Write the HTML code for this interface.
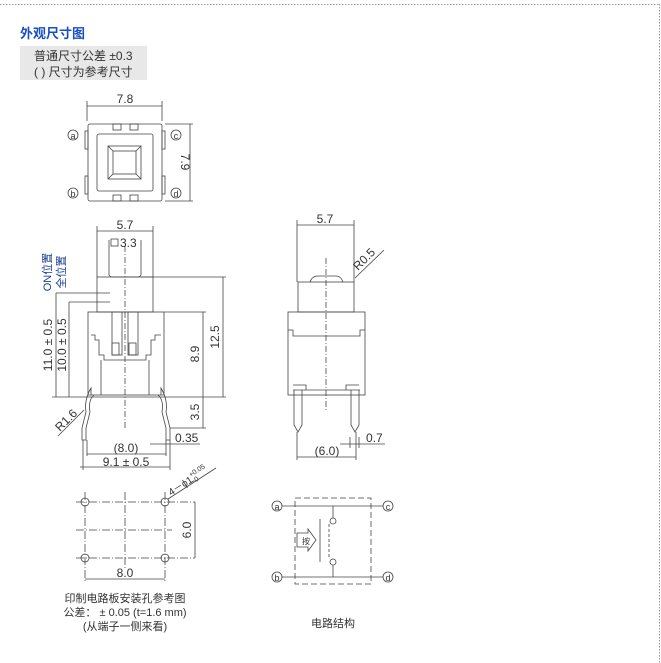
<!DOCTYPE html>
<html><head><meta charset="utf-8"><style>
body{margin:0;background:#fff;width:661px;height:663px;overflow:hidden;position:relative;font-family:"Liberation Sans","Noto Sans CJK SC",sans-serif}
svg{position:absolute;left:0;top:0}
</style></head><body>
<svg width="661" height="663" viewBox="0 0 661 663" font-family="Liberation Sans, Noto Sans CJK SC, sans-serif">
<line x1="0" y1="4.5" x2="659" y2="4.5" stroke="#999" stroke-dasharray="1.5,1.5"/>
<line x1="659.5" y1="4" x2="659.5" y2="663" stroke="#999" stroke-dasharray="1.5,1.5"/>
<text x="20" y="38" font-size="13" font-weight="bold" fill="#1a4fc2">外观尺寸图</text>
<rect x="20" y="46" width="127" height="34" fill="#e8e8e8"/>
<text x="34" y="60" font-size="12" fill="#333">普通尺寸公差 ±0.3</text>
<text x="34" y="76" font-size="12" fill="#333">( ) 尺寸为参考尺寸</text>

<g stroke="#444" fill="none" stroke-width="0.8">
<rect x="88" y="124" width="74" height="77" rx="2"/>
<rect x="97" y="134" width="56" height="57" rx="2"/>
<rect x="108" y="146" width="33" height="33"/>
<rect x="113" y="151" width="23" height="23"/>
<line x1="108" y1="146" x2="113" y2="151"/><line x1="141" y1="146" x2="136" y2="151"/><line x1="108" y1="179" x2="113" y2="174"/><line x1="141" y1="179" x2="136" y2="174"/>
<rect x="113" y="124" width="8" height="6"/><rect x="130" y="124" width="8" height="6"/>
<rect x="113" y="195" width="8" height="6"/><rect x="130" y="195" width="8" height="6"/>
<rect x="85" y="131" width="3" height="18"/><rect x="85" y="176" width="3" height="18"/>
<rect x="162" y="131" width="3" height="18"/><rect x="162" y="176" width="3" height="18"/>
<line x1="87" y1="101" x2="87" y2="121"/><line x1="162" y1="101" x2="162" y2="121"/>
<line x1="87" y1="106" x2="162" y2="106"/>
<line x1="165" y1="124" x2="193" y2="124"/><line x1="165" y1="201" x2="193" y2="201"/>
<line x1="190" y1="124" x2="190" y2="201"/>
<circle cx="73" cy="135" r="5"/><circle cx="73" cy="193" r="5"/><circle cx="176" cy="135" r="5"/><circle cx="176" cy="193" r="5"/>

<line x1="97" y1="226" x2="97" y2="277"/><line x1="153" y1="226" x2="153" y2="277"/>
<line x1="97" y1="231" x2="153" y2="231"/>
<path d="M109 240 V275 Q110 277 113 277 H137 Q140 277 141 275 V240"/>
<rect x="97" y="277" width="56" height="35"/>
<rect x="88" y="312" width="76" height="83"/>
<path d="M91 335 H95 V340 H99 V355 H104 V360 H146 V355 H151 V340 H155 V335 H161"/>
<rect x="112" y="312" width="10" height="43"/><rect x="128" y="312" width="10" height="43"/>
<rect x="112" y="343" width="7" height="12"/><rect x="129" y="343" width="7" height="12"/>
<line x1="101" y1="360" x2="101" y2="395"/><line x1="149" y1="360" x2="149" y2="395"/>
<path d="M91 395 V388 Q84 400 86 412 L82 428 V440 H86 V428 L90 412 Q88 400 94 395"/>
<path d="M161 395 V388 Q168 400 166 412 L170 428 V440 H166 V428 L162 412 Q164 400 158 395"/>
<line x1="125" y1="246" x2="125" y2="430" stroke-dasharray="6,2,1,2"/>
<line x1="141" y1="277" x2="226" y2="277"/><line x1="164" y1="312" x2="206" y2="312"/>
<line x1="52" y1="397" x2="226" y2="397"/>
<line x1="223" y1="277" x2="223" y2="397"/>
<line x1="203" y1="312" x2="203" y2="428"/><line x1="170" y1="428" x2="206" y2="428"/>
<line x1="56" y1="293" x2="56" y2="397"/><line x1="69" y1="302" x2="69" y2="397"/>
<line x1="56" y1="293" x2="110" y2="293"/><line x1="69" y1="302" x2="110" y2="302"/>
<line x1="83" y1="440" x2="83" y2="470"/><line x1="170" y1="440" x2="170" y2="470"/>
<line x1="87" y1="440" x2="87" y2="456"/><line x1="166" y1="440" x2="166" y2="456"/>
<line x1="87" y1="454" x2="166" y2="454"/><line x1="80" y1="467" x2="170" y2="467"/>
<line x1="150" y1="444" x2="200" y2="444"/>
<line x1="58" y1="436" x2="84" y2="410"/>

<line x1="297" y1="220" x2="297" y2="282"/><line x1="354" y1="220" x2="354" y2="282"/>
<line x1="297" y1="225" x2="354" y2="225"/>
<path d="M310 282 Q312 276 318 276 H336 Q341 276 343 282"/>
<rect x="298" y="282" width="56" height="30"/>
<rect x="288" y="312" width="77" height="83"/>
<path d="M288 330 H293 V336 H360 V330 H365"/>
<line x1="293" y1="390" x2="360" y2="390"/>
<path d="M293 385 H306 V390 M346 390 V385 H359"/>
<path d="M294 390 V425 L298 432 L302 425 V390"/>
<path d="M351 390 V425 L355 432 L359 425 V390"/>
<line x1="326" y1="258" x2="326" y2="412" stroke-dasharray="6,2,1,2"/>
<line x1="355" y1="278" x2="384" y2="250"/>
<line x1="297" y1="432" x2="297" y2="460"/><line x1="356" y1="432" x2="356" y2="460"/>
<line x1="297" y1="457" x2="356" y2="457"/>
<line x1="350" y1="437" x2="350" y2="448"/><line x1="359" y1="437" x2="359" y2="448"/>
<line x1="340" y1="444" x2="385" y2="444"/>

<line x1="76" y1="502" x2="195" y2="502" stroke-dasharray="8,2,1,2"/>
<line x1="76" y1="558" x2="195" y2="558" stroke-dasharray="8,2,1,2"/>
<line x1="76" y1="530" x2="172" y2="530" stroke-dasharray="8,2,1,2"/>
<line x1="85" y1="492" x2="85" y2="582" stroke-dasharray="8,2,1,2"/>
<line x1="165" y1="492" x2="165" y2="582" stroke-dasharray="8,2,1,2"/>
<line x1="125" y1="492" x2="125" y2="568" stroke-dasharray="8,2,1,2"/>
<circle cx="85" cy="502" r="4"/><circle cx="165" cy="502" r="4"/><circle cx="85" cy="558" r="4"/><circle cx="165" cy="558" r="4"/>
<line x1="195" y1="502" x2="195" y2="558"/>
<line x1="85" y1="579" x2="165" y2="579"/>
<line x1="168" y1="499" x2="216" y2="468"/>

<rect x="295" y="498" width="76" height="86" stroke-dasharray="6,3"/>
<line x1="282" y1="506" x2="383" y2="506"/><line x1="282" y1="577" x2="383" y2="577"/>
<line x1="333" y1="506" x2="333" y2="518"/><circle cx="333" cy="521" r="3"/>
<circle cx="333" cy="562" r="3"/><line x1="333" y1="565" x2="333" y2="577"/>
<line x1="320" y1="519" x2="320" y2="562"/>
<line x1="329" y1="524" x2="329" y2="559" stroke-dasharray="3,2"/>
<path d="M297 533 H308 V529 L316 540 L308 551 V547 H297 Z"/>
<circle cx="277" cy="506" r="5"/><circle cx="277" cy="577" r="5"/><circle cx="388" cy="506" r="5"/><circle cx="388" cy="577" r="5"/>
</g>

<g fill="#333" font-size="12">
<text x="73" y="139" font-size="9" text-anchor="middle">a</text>
<text x="73" y="197" font-size="9" text-anchor="middle">b</text>
<text x="176" y="139" font-size="9" text-anchor="middle">c</text>
<text x="176" y="197" font-size="9" text-anchor="middle">d</text>
<text x="125" y="103" text-anchor="middle">7.8</text>
<text transform="translate(181,162) rotate(90)" text-anchor="middle">7.9</text>
<text x="125" y="229" text-anchor="middle">5.7</text>
<rect x="111" y="239" width="7" height="7" fill="none" stroke="#444" stroke-width="0.8"/>
<text x="120" y="247">3.3</text>
<text transform="translate(51,272) rotate(-90)" text-anchor="middle" fill="#1a3f8f" font-size="11">ON位置</text>
<text transform="translate(65,272) rotate(-90)" text-anchor="middle" fill="#1a3f8f" font-size="11">全位置</text>
<text transform="translate(52,345) rotate(-90)" text-anchor="middle">11.0 ± 0.5</text>
<text transform="translate(66,345) rotate(-90)" text-anchor="middle">10.0 ± 0.5</text>
<text transform="translate(219,337) rotate(-90)" text-anchor="middle">12.5</text>
<text transform="translate(199,354) rotate(-90)" text-anchor="middle">8.9</text>
<text transform="translate(199,412) rotate(-90)" text-anchor="middle">3.5</text>
<text transform="translate(60,432) rotate(-45)">R1.6</text>
<text x="175" y="442">0.35</text>
<text x="126" y="452" text-anchor="middle">(8.0)</text>
<text x="126" y="466" text-anchor="middle">9.1 ± 0.5</text>
<text x="325" y="223" text-anchor="middle">5.7</text>
<text transform="translate(358,271) rotate(-45)">R0.5</text>
<text x="366" y="442">0.7</text>
<text x="327" y="455" text-anchor="middle">(6.0)</text>
<text transform="translate(171,496) rotate(-33)" font-size="10">4－ϕ1<tspan font-size="7" dy="-5">+0.05</tspan><tspan font-size="7" dx="-20" dy="7">−0</tspan></text>
<text transform="translate(191,530) rotate(-90)" text-anchor="middle">6.0</text>
<text x="125" y="577" text-anchor="middle">8.0</text>
<text x="125" y="602" text-anchor="middle" font-size="11">印制电路板安装孔参考图</text>
<text x="125" y="616" text-anchor="middle" font-size="11">公差： ± 0.05 (t=1.6 mm)</text>
<text x="125" y="630" text-anchor="middle" font-size="11">(从端子一侧来看)</text>
<text x="277" y="510" font-size="9" text-anchor="middle">a</text>
<text x="277" y="581" font-size="9" text-anchor="middle">b</text>
<text x="388" y="510" font-size="9" text-anchor="middle">c</text>
<text x="388" y="581" font-size="9" text-anchor="middle">d</text>
<text x="302" y="544" font-size="8">按</text>
<text x="333" y="627" text-anchor="middle" font-size="11">电路结构</text>
</g>
</svg>
</body></html>
